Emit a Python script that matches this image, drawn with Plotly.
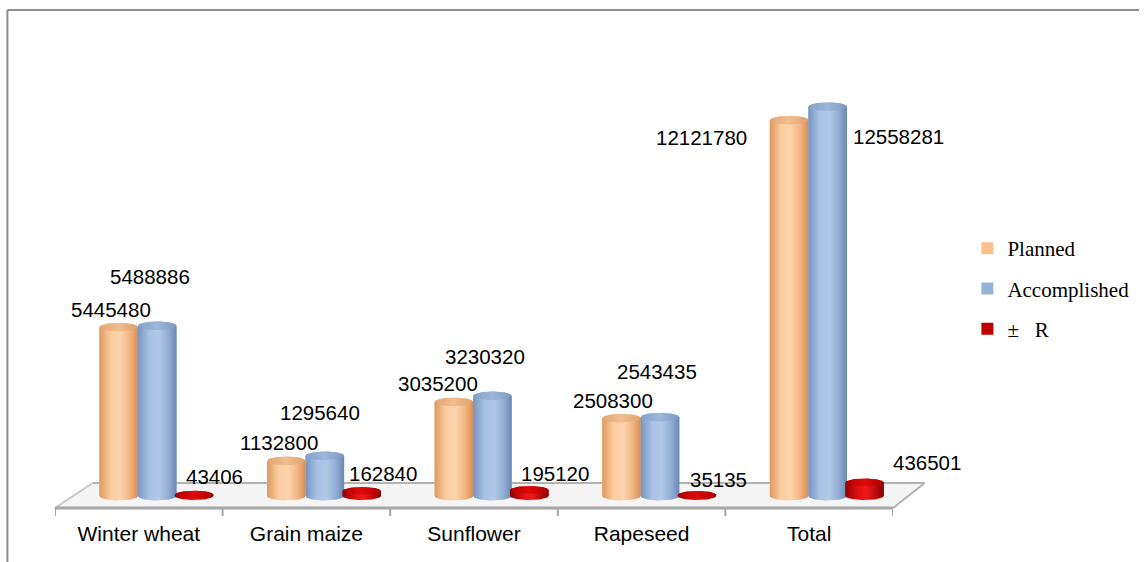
import numpy as np
import plotly.graph_objects as go

# ---- data ----
categories = ["Winter wheat", "Grain maize", "Sunflower", "Rapeseed", "Total"]
planned = [5445480, 1132800, 3035200, 2508300, 12121780]
accomplished = [5488886, 1295640, 3230320, 2543435, 12558281]
difference = [43406, 162840, 195120, 35135, 436501]
series_names = ["Planned", "Accomplished", "±   R"]

# ---- page geometry (pixels) ----
W, H = 1146, 562
L, R, T, B = 55, 900, 30, 508          # plot area
Y0_PX = 496                             # pixel row of value 0
K = 31.0e-6                             # pixels per unit of value
Y_MIN = -(B - Y0_PX) / K
Y_MAX = Y_MIN + (B - T) / K

BAR_W = 0.23
OFFSETS = [-0.12, 0.11, 0.33]
CAP_B_PX = [4.5, 4.5, 4.0]              # half-height of ellipse caps in px

LEG_COLORS = ["#FAC090", "#95B3D7", "#C00000"]
BODY_SCALES = [
    [[0, "#DD9A5E"], [0.3, "#FBCDA2"], [0.55, "#FCD3AE"], [0.8, "#F2B47E"], [1, "#D58E55"]],
    [[0, "#7896C0"], [0.3, "#A9C2E3"], [0.55, "#B0C8E6"], [0.8, "#90ACD3"], [1, "#6A88B3"]],
    [[0, "#8E0000"], [0.35, "#E01010"], [0.55, "#F01818"], [1, "#8A0000"]],
]
CAP_SCALES = [
    [[0, "#E4A878"], [0.5, "#F0BD8E"], [1, "#E0A170"]],
    [[0, "#86A2C9"], [0.5, "#9CB6DA"], [1, "#7E9AC2"]],
    [[0, "#B00000"], [0.5, "#E00A0A"], [1, "#B00000"]],
]

# data-label pixel shifts relative to the top of each cylinder
LABEL_SHIFT = [
    [(-8, 18), (-7, 18), (-16, 18), (-8, 18), (-88, -17)],
    [(-7, 49), (-5, 43), (-7, 39), (-3, 46), (71, -30)],
    [(20, 18), (21, 17), (26, 16), (22, 15), (62, 20)],
]


def px_x(p):
    return (p - L) / (R - L)


def px_y(p):
    return (B - p) / (B - T)


fig = go.Figure()
values = [planned, accomplished, difference]

# plain bars (legend + hover); the cylinder shading is laid over them
for s, (name, vals) in enumerate(zip(series_names, values)):
    fig.add_trace(go.Bar(
        x=list(range(len(categories))), y=vals, name=name,
        width=BAR_W, offset=OFFSETS[s] - BAR_W / 2,
        marker=dict(color=LEG_COLORS[s], line=dict(width=0)),
        legendgroup=name, hovertext=categories,
    ))

t_low = np.linspace(np.pi, 2 * np.pi, 41)
t_up = np.linspace(0, np.pi, 41)
t_full = np.linspace(0, 2 * np.pi, 81)

for i in range(len(categories)):
    for s in range(3):
        v = values[s][i]
        cx = i + OFFSETS[s]
        a = BAR_W / 2
        b = CAP_B_PX[s] / K
        # cylinder body: lower half of base ellipse, then upper half of top ellipse
        xs = np.concatenate([cx + a * np.cos(t_low), cx + a * np.cos(t_up)])
        ys = np.concatenate([b * np.sin(t_low), v + b * np.sin(t_up)])
        fig.add_trace(go.Scatter(
            x=np.append(xs, xs[0]), y=np.append(ys, ys[0]), mode="lines",
            line=dict(width=0), fill="toself",
            fillgradient=dict(type="horizontal", colorscale=BODY_SCALES[s]),
            hoverinfo="skip", showlegend=False,
        ))
        # top cap
        a2 = a * 0.97
        fig.add_trace(go.Scatter(
            x=cx + a2 * np.cos(t_full), y=v + b * 0.95 * np.sin(t_full), mode="lines",
            line=dict(width=0), fill="toself",
            fillgradient=dict(type="horizontal", colorscale=CAP_SCALES[s]),
            hoverinfo="skip", showlegend=False,
        ))

# data labels
annotations = []
for s in range(3):
    for i, v in enumerate(values[s]):
        dx, dy = LABEL_SHIFT[s][i]
        annotations.append(dict(
            x=i + OFFSETS[s], y=v, xref="x", yref="y", text=f"{v}",
            showarrow=False, xshift=dx, yshift=dy,
            font=dict(family="Arial, Liberation Sans", size=20.5, color="#000000"),
        ))

# floor plane, category ticks and outer frame
GRAY = "#A6A6A6"
shapes = [
    dict(type="path", xref="paper", yref="paper",
         path=f"M{px_x(55)},{px_y(508)} L{px_x(93)},{px_y(483)} L{px_x(932)},{px_y(483)} "
              f"L{px_x(900)},{px_y(508)} Z",
         fillcolor="#F5F5F5", line=dict(width=0), layer="below"),
    dict(type="line", xref="paper", yref="paper", x0=px_x(93), y0=px_y(483),
         x1=px_x(932), y1=px_y(483), line=dict(color="#B3B3B3", width=2), layer="below"),
    dict(type="line", xref="paper", yref="paper", x0=px_x(55), y0=px_y(508),
         x1=px_x(93), y1=px_y(483), line=dict(color="#C8C8C8", width=2), layer="below"),
    dict(type="line", xref="paper", yref="paper", x0=px_x(900), y0=px_y(508),
         x1=px_x(932), y1=px_y(483), line=dict(color="#B3B3B3", width=2), layer="below"),
    dict(type="line", xref="paper", yref="paper", x0=0, y0=px_y(508),
         x1=1, y1=px_y(508), line=dict(color=GRAY, width=3), layer="below"),
    dict(type="line", xref="paper", yref="paper", x0=px_x(7), y0=px_y(10),
         x1=px_x(W + 2), y1=px_y(10), line=dict(color="#8C8C8C", width=2)),
    dict(type="line", xref="paper", yref="paper", x0=px_x(7), y0=px_y(10),
         x1=px_x(7), y1=px_y(H + 2), line=dict(color="#8C8C8C", width=2)),
]
for k in range(len(categories) + 1):
    shapes.append(dict(type="line", xref="x", yref="paper", x0=k - 0.5, x1=k - 0.5,
                       y0=px_y(508), y1=px_y(516), line=dict(color=GRAY, width=2)))

fig.update_layout(
    width=W, height=H,
    margin=dict(l=L, r=W - R, t=T, b=H - B, pad=0),
    paper_bgcolor="white", plot_bgcolor="rgba(0,0,0,0)",
    barmode="overlay", showlegend=True,
    xaxis=dict(range=[-0.5, len(categories) - 0.5], tickvals=list(range(len(categories))),
               ticktext=categories, ticks="", showgrid=False, zeroline=False, showline=False,
               ticklabelstandoff=11,
               tickfont=dict(family="Arial, Liberation Sans", size=21, color="#000000")),
    yaxis=dict(range=[Y_MIN, Y_MAX], visible=False, showgrid=False, zeroline=False),
    legend=dict(x=px_x(975), y=px_y(228), xanchor="left", yanchor="top",
                font=dict(family="Times New Roman, Liberation Serif", size=21, color="#000000"),
                traceorder="grouped", tracegroupgap=10, bgcolor="rgba(0,0,0,0)",
                itemwidth=30),
    annotations=annotations, shapes=shapes,
)

fig.write_html("out.html")
